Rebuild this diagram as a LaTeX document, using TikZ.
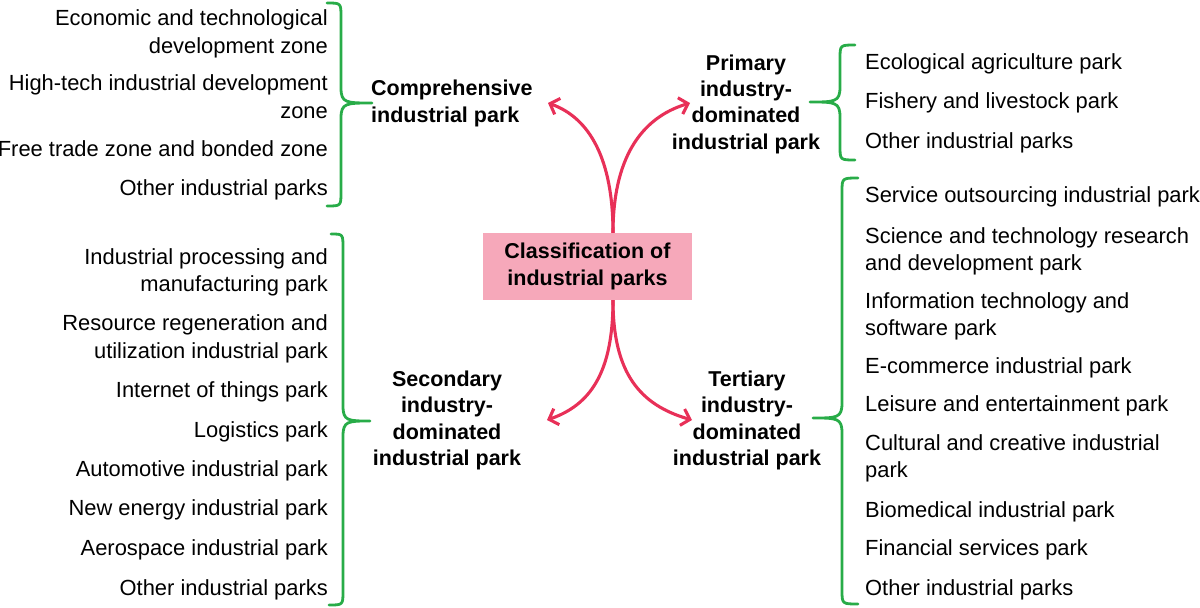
\documentclass[tikz,border=0pt]{standalone}
\usepackage{fontspec}
\setmainfont{Liberation Sans}
\usetikzlibrary{arrows.meta}
\definecolor{brgreen}{RGB}{40,172,72}
\definecolor{arrred}{RGB}{232,48,88}
\definecolor{boxpink}{RGB}{246,168,186}
\begin{document}
\begin{tikzpicture}[x=1pt,y=-1pt,
  item/.style={inner sep=0pt, font=\fontsize{21.9}{27.5}\selectfont},
  litem/.style={item, anchor=east, align=right},
  ritem/.style={item, anchor=west, align=left},
  cat/.style={inner sep=0pt, font=\fontsize{21.5}{26.3}\selectfont\bfseries, align=center},
  brace/.style={draw=brgreen, line width=2.8pt, line cap=round, line join=round},
  link/.style={draw=arrred, line width=3.1pt, -{Straight Barb[length=8pt,width=17pt]}}
]
\useasboundingbox (0,0) rectangle (1200,608);

% centre
\node[fill=boxpink, minimum width=209pt, minimum height=67pt, inner sep=0pt,
      font=\fontsize{21.5}{27.5}\selectfont\bfseries, align=center] (root) at (587.5,266.5)
      {Classification of\\industrial parks};

% categories
\node[cat, anchor=west, align=left] (comp) at (371,103.5) {Comprehensive\\industrial park};
\node[cat] (prim) at (746,104) {Primary\\industry-\\dominated\\industrial park};
\node[cat] (sec) at (447,420.5) {Secondary\\industry-\\dominated\\industrial park};
\node[cat] (ter) at (747,420.5) {Tertiary\\industry-\\dominated\\industrial park};

% comprehensive items
\node[litem] (l1) at (328,34) {Economic and technological\\development zone};
\node[litem] (l2) at (328,96.5) {High-tech industrial development\\zone};
\node[litem] (l3) at (328,149) {Free trade zone and bonded zone};
\node[litem] (l4) at (328,190) {Other industrial parks};

% secondary items
\node[litem] (s1) at (328,272.5) {Industrial processing and\\manufacturing park};
\node[litem] (s2) at (328,339) {Resource regeneration and\\utilization industrial park};
\node[litem] (s3) at (328,392) {Internet of things park};
\node[litem] (s4) at (328,432) {Logistics park};
\node[litem] (s5) at (328,471) {Automotive industrial park};
\node[litem] (s6) at (328,510) {New energy industrial park};
\node[litem] (s7) at (328,550) {Aerospace industrial park};
\node[litem] (s8) at (328,590) {Other industrial parks};

% primary items
\node[ritem] (p1) at (865,64) {Ecological agriculture park};
\node[ritem] (p2) at (865,103) {Fishery and livestock park};
\node[ritem] (p3) at (865,143) {Other industrial parks};

% tertiary items
\node[ritem] (t1) at (865,197) {Service outsourcing industrial park};
\node[ritem] (t2) at (865,251.5) {Science and technology research\\and development park};
\node[ritem] (t3) at (865,316.5) {Information technology and\\software park};
\node[ritem] (t4) at (865,368) {E-commerce industrial park};
\node[ritem] (t5) at (865,406) {Leisure and entertainment park};
\node[ritem] (t6) at (865,458.5) {Cultural and creative industrial\\park};
\node[ritem] (t7) at (865,512) {Biomedical industrial park};
\node[ritem] (t8) at (865,550) {Financial services park};
\node[ritem] (t9) at (865,590) {Other industrial parks};

% arrows
\coordinate (rt) at ([xshift=25.5pt]root.north);
\coordinate (rb) at ([xshift=25.5pt]root.south);
\coordinate (a1) at (548,103);
\coordinate (a2) at (690,103);
\coordinate (a3) at (547,420);
\coordinate (a4) at (692,420);
\draw[link] (rt) .. controls +(0,-73) and +(42,15) .. (a1);
\draw[link] (rt) .. controls +(0,-73) and +(-50,15) .. (a2);
\draw[link] (rb) .. controls +(0,73) and +(43,-15) .. (a3);
\draw[link] (rb) .. controls +(0,73) and +(-52,-15) .. (a4);

% braces
\draw[brace] (327,3) .. controls (341,3) .. (341,17) -- (341,88)
  .. controls (341,103) and (346,103) .. (372,103)
  .. controls (346,103) and (341,103) .. (341,118) -- (341,192)
  .. controls (341,206) .. (327,206);
\draw[brace] (331,234) .. controls (343,234) .. (343,248) -- (343,406)
  .. controls (343,421) and (348,421) .. (370,421)
  .. controls (348,421) and (343,421) .. (343,436) -- (343,591)
  .. controls (343,605) .. (329,605);
\draw[brace] (855,45) .. controls (840,45) .. (840,59) -- (840,87)
  .. controls (840,102) and (835,102) .. (810,102)
  .. controls (835,102) and (840,102) .. (840,117) -- (840,146)
  .. controls (840,160) .. (855,160);
\draw[brace] (858,178) .. controls (842,178) .. (842,192) -- (842,403)
  .. controls (842,418) and (837,418) .. (813,418)
  .. controls (837,418) and (842,418) .. (842,433) -- (842,590)
  .. controls (842,604) .. (858,604);
\end{tikzpicture}
\end{document}
